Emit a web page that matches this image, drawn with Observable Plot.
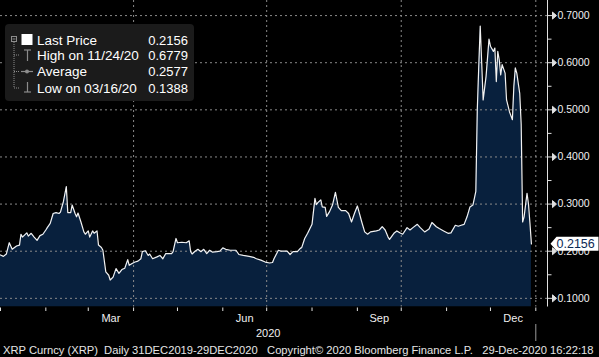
<!DOCTYPE html>
<html>
<head>
<meta charset="utf-8">
<script src="https://cdn.jsdelivr.net/npm/d3@7"></script>
<script src="https://cdn.jsdelivr.net/npm/@observablehq/plot@0.6"></script>
<style>
html,body{margin:0;padding:0;background:#000;}
#wrap{position:relative;width:599px;height:357px;overflow:hidden;background:#000;font-family:"Liberation Sans",Arial,sans-serif;}
#chart svg{display:block;}
#legend{position:absolute;left:5px;top:24px;width:189px;height:77px;background:#1b1b1b;border-radius:4px;color:#fff;font-size:13px;}
#legend .lbl{position:absolute;left:32px;line-height:15px;white-space:nowrap;font-size:13.5px;}
#legend .val{position:absolute;right:6px;line-height:15px;}
#legend svg{position:absolute;left:0;top:0;}
#footer{position:absolute;left:3px;top:343px;font-size:11.2px;line-height:14px;color:#e6e6e6;white-space:pre;}
</style>
</head>
<body>
<div id="wrap">
  <div id="chart"></div>
  <div id="legend"></div>
  <div id="footer"></div>
</div>
<script>
// ---------------- data ----------------
const dates = [
"2019-12-31","2020-01-01","2020-01-03","2020-01-05","2020-01-07","2020-01-09","2020-01-12","2020-01-14","2020-01-15","2020-01-16",
"2020-01-19","2020-01-20","2020-01-22","2020-01-24","2020-01-26","2020-01-28","2020-01-30","2020-02-01","2020-02-02","2020-02-04",
"2020-02-06","2020-02-08","2020-02-10","2020-02-11","2020-02-13","2020-02-15","2020-02-16","2020-02-18","2020-02-19","2020-02-21",
"2020-02-22","2020-02-23","2020-02-25","2020-02-27","2020-02-28","2020-03-01","2020-03-02","2020-03-04","2020-03-05","2020-03-07",
"2020-03-08","2020-03-10","2020-03-11","2020-03-13","2020-03-15","2020-03-16","2020-03-18","2020-03-20","2020-03-22","2020-03-24",
"2020-03-26","2020-03-28","2020-03-29","2020-03-31","2020-04-02","2020-04-04","2020-04-06","2020-04-07","2020-04-09","2020-04-11",
"2020-04-12","2020-04-14","2020-04-17","2020-04-19","2020-04-21","2020-04-23","2020-04-27","2020-04-28","2020-04-30","2020-05-01",
"2020-05-04","2020-05-07","2020-05-09","2020-05-10","2020-05-11","2020-05-13","2020-05-15","2020-05-17","2020-05-19","2020-05-21",
"2020-05-23","2020-05-25","2020-05-28","2020-05-30","2020-06-01","2020-06-03","2020-06-06","2020-06-10","2020-06-12","2020-06-15",
"2020-06-19","2020-06-22","2020-06-24","2020-06-27","2020-06-30","2020-07-03","2020-07-05","2020-07-06","2020-07-09","2020-07-11",
"2020-07-15","2020-07-17","2020-07-19","2020-07-22","2020-07-24","2020-07-25","2020-07-27","2020-07-29","2020-08-01","2020-08-03",
"2020-08-04","2020-08-05","2020-08-07","2020-08-08","2020-08-10","2020-08-11","2020-08-13","2020-08-15","2020-08-17","2020-08-19",
"2020-08-21","2020-08-24","2020-08-26","2020-08-28","2020-08-30","2020-09-01","2020-09-04","2020-09-06","2020-09-08","2020-09-10",
"2020-09-14","2020-09-16","2020-09-18","2020-09-20","2020-09-22","2020-09-23","2020-09-26","2020-09-28","2020-09-30","2020-10-02",
"2020-10-05","2020-10-07","2020-10-09","2020-10-12","2020-10-14","2020-10-17","2020-10-20","2020-10-22","2020-10-25","2020-10-27",
"2020-10-30","2020-11-02","2020-11-04","2020-11-07","2020-11-09","2020-11-11","2020-11-13","2020-11-15","2020-11-17","2020-11-19",
"2020-11-20","2020-11-21","2020-11-22","2020-11-23","2020-11-24","2020-11-25","2020-11-26","2020-11-28","2020-11-30","2020-12-01",
"2020-12-03","2020-12-04","2020-12-05","2020-12-06","2020-12-07","2020-12-08","2020-12-09","2020-12-11","2020-12-12","2020-12-14",
"2020-12-16","2020-12-17","2020-12-18","2020-12-19","2020-12-21","2020-12-22","2020-12-23","2020-12-24","2020-12-26","2020-12-27",
"2020-12-28","2020-12-29"
];
const prices = [
0.193,0.192,0.189,0.194,0.218,0.204,0.211,0.213,0.236,0.230,
0.239,0.232,0.238,0.230,0.223,0.233,0.236,0.245,0.250,0.259,
0.280,0.282,0.280,0.283,0.305,0.337,0.282,0.282,0.298,0.280,
0.273,0.281,0.262,0.241,0.236,0.243,0.230,0.243,0.238,0.243,
0.213,0.208,0.202,0.156,0.149,0.1388,0.145,0.163,0.153,0.161,
0.164,0.182,0.170,0.174,0.177,0.179,0.184,0.199,0.201,0.191,
0.194,0.184,0.188,0.191,0.184,0.195,0.195,0.199,0.227,0.218,
0.219,0.218,0.222,0.199,0.194,0.200,0.204,0.199,0.204,0.195,
0.202,0.198,0.199,0.200,0.207,0.204,0.202,0.202,0.193,0.191,
0.189,0.187,0.184,0.181,0.177,0.175,0.176,0.184,0.202,0.200,
0.200,0.193,0.199,0.199,0.206,0.208,0.227,0.238,0.257,0.312,
0.299,0.303,0.309,0.294,0.293,0.274,0.284,0.298,0.325,0.293,
0.286,0.286,0.280,0.262,0.280,0.296,0.262,0.241,0.236,0.241,
0.243,0.245,0.252,0.245,0.230,0.225,0.238,0.243,0.239,0.236,
0.250,0.245,0.250,0.257,0.250,0.241,0.247,0.261,0.252,0.248,
0.243,0.238,0.239,0.255,0.253,0.255,0.257,0.273,0.294,0.298,
0.312,0.327,0.500,0.592,0.6779,0.600,0.521,0.571,0.650,0.635,
0.624,0.631,0.560,0.624,0.606,0.574,0.596,0.578,0.521,0.496,
0.479,0.550,0.589,0.578,0.535,0.470,0.262,0.273,0.323,0.300,
0.259,0.2156
];
const yTicks = [0.1, 0.2, 0.3, 0.4, 0.5, 0.6, 0.7];
const yMinorTicks = [0.15, 0.25, 0.35, 0.45, 0.55, 0.65];
const monthLabels = ["Mar", "Jun", "Sep", "Dec"];
const monthLabelIndex = [2, 5, 8, 11];
const yearLabel = "2020";
const legendLabels = ["Last Price", "High on 11/24/20", "Average", "Low on 03/16/20"];
const legendValues = ["0.2156", "0.6779", "0.2577", "0.1388"];
const lastPrice = 0.2156;
const footerText = "XRP Curncy (XRP)  Daily 31DEC2019-29DEC2020   Copyright\u00A9 2020 Bloomberg Finance L.P.   29-Dec-2020 16:22:18";

// ---------------- build ----------------
const data = dates.map((d, i) => ({date: new Date(d + "T00:00:00Z"), price: prices[i]}));
const DAY = 864e5;
const x0 = Date.UTC(2020, 0, 1);
const xDomain = [new Date(x0), new Date(x0 + 374 * DAY)];
const yDomain = [0.0816, 0.732];
const monthStarts = d3.range(0, 13).map(m => new Date(Date.UTC(2020, m, 1)));
const quarterStarts = [3, 6, 9, 12].map(m => new Date(Date.UTC(2020, m, 1)));
const labelData = monthLabels.map((t, i) => {
  const m = monthLabelIndex[i];
  const a = Date.UTC(2020, m, 1), b = Date.UTC(2020, m + 1, 1);
  return {text: t, date: new Date((a + b) / 2)};
});
const yearMid = new Date((Date.UTC(2020,0,1) + Date.UTC(2021,0,1)) / 2);
const yearEnd = new Date(Date.UTC(2021, 0, 1));

// custom symbols (pixel-space shapes)
const symMajor = {draw(c){ c.moveTo(0,0); c.lineTo(5,0); c.moveTo(5,-3.5); c.lineTo(9,0); c.lineTo(5,3.5); c.closePath(); }};
const symMinor = {draw(c){ c.moveTo(0,0); c.lineTo(4,0); }};
const symVTick = {draw(c){ c.moveTo(0,0.5); c.lineTo(0,4); }};
const symYearSep = {draw(c){ c.moveTo(0,17); c.lineTo(0,34); }};
const symTag = {draw(c){ c.moveTo(3,0); c.lineTo(9,-7); c.lineTo(51,-7); c.lineTo(51,7); c.lineTo(9,7); c.closePath(); }};

const grid = {stroke: "#8a8a8a", strokeWidth: 1, strokeDasharray: "2,3"};

const chart = Plot.plot({
  width: 599,
  height: 340,
  marginLeft: 0,
  marginRight: 52,
  marginTop: 0,
  marginBottom: 33.5,
  x: {type: "utc", domain: xDomain, axis: null},
  y: {domain: yDomain, axis: null},
  style: {background: "#000", color: "#fff", fontFamily: "Liberation Sans, Arial, sans-serif", overflow: "visible"},
  marks: [
    Plot.areaY(data, {x: "date", y1: yDomain[0], y2: "price", fill: "#08203d", clip: true}),
    Plot.ruleY(yTicks, grid),
    Plot.ruleX(quarterStarts, grid),
    Plot.lineY(data, {x: "date", y: "price", stroke: "#f2f2f2", strokeWidth: 1.2, clip: true}),
    // right axis
    Plot.ruleX([xDomain[1]], {stroke: "#e0e0e0", strokeWidth: 1}),
    Plot.dot(yTicks, {x: () => xDomain[1], y: d => d, symbol: symMajor, fill: "#e0e0e0", stroke: "#e0e0e0", strokeWidth: 1}),
    Plot.dot(yMinorTicks, {x: () => xDomain[1], y: d => d, symbol: symMinor, stroke: "#e0e0e0", strokeWidth: 1}),
    Plot.text(yTicks, {x: () => xDomain[1], y: d => d, text: d => d.toFixed(4), dx: 10, textAnchor: "start", fill: "#f0f0f0", fontSize: 10.5}),
    // last price tag
    Plot.dot([lastPrice], {x: () => xDomain[1], y: d => d, symbol: symTag, fill: "#ffffff", stroke: "none"}),
    Plot.text([lastPrice], {x: () => xDomain[1], y: d => d, text: d => d.toFixed(4), dx: 9, textAnchor: "start", fill: "#0b2a55", fontSize: 12.5}),
    // bottom axis
    Plot.dot(monthStarts, {x: d => d, y: () => yDomain[0], symbol: symVTick, stroke: "#e0e0e0", strokeWidth: 1}),
    Plot.text(labelData, {x: "date", y: () => yDomain[0], text: "text", dy: 11, fill: "#f0f0f0", fontSize: 11}),
    Plot.text([yearLabel], {x: () => yearMid, y: () => yDomain[0], text: d => d, dy: 26, fill: "#f0f0f0", fontSize: 11}),
    Plot.dot([yearEnd], {x: d => d, y: () => yDomain[0], symbol: symYearSep, stroke: "#9a9a9a", strokeWidth: 1})
  ]
});
document.getElementById("chart").appendChild(chart);

// legend
const lg = document.getElementById("legend");
const rowY = [16, 31, 47.5, 64];
const ic = "#8c8c8c";
lg.innerHTML = `<svg width="189" height="77">
  <rect x="6.5" y="12.5" width="5" height="5" fill="none" stroke="${ic}" stroke-width="1"/>
  <line x1="7.5" y1="15" x2="10.5" y2="15" stroke="${ic}"/>
  <line x1="9" y1="18" x2="9" y2="${rowY[3]}" stroke="${ic}" stroke-dasharray="1,1"/>
  <line x1="9" y1="${rowY[1]}" x2="14" y2="${rowY[1]}" stroke="${ic}" stroke-dasharray="1,1"/>
  <line x1="9" y1="${rowY[2]}" x2="14" y2="${rowY[2]}" stroke="${ic}" stroke-dasharray="1,1"/>
  <line x1="9" y1="${rowY[3]}" x2="14" y2="${rowY[3]}" stroke="${ic}" stroke-dasharray="1,1"/>
  <rect x="16.5" y="10" width="11" height="11" fill="#fff"/>
  <line x1="19" y1="26" x2="26" y2="26" stroke="${ic}" stroke-width="1.2"/>
  <line x1="22.5" y1="26" x2="22.5" y2="37" stroke="${ic}" stroke-width="1.2"/>
  <line x1="16" y1="${rowY[2]}" x2="28" y2="${rowY[2]}" stroke="${ic}" stroke-width="1.2"/>
  <circle cx="22" cy="${rowY[2]}" r="2" fill="${ic}"/>
  <line x1="22.5" y1="58" x2="22.5" y2="68" stroke="${ic}" stroke-width="1.2"/>
  <line x1="19" y1="68" x2="26" y2="68" stroke="${ic}" stroke-width="1.2"/>
</svg>` + legendLabels.map((t, i) =>
  `<span class="lbl" style="top:${rowY[i] - 7.5}px">${t}</span><span class="val" style="top:${rowY[i] - 7.5}px">${legendValues[i]}</span>`).join("");

document.getElementById("footer").textContent = footerText;
</script>
</body>
</html>
